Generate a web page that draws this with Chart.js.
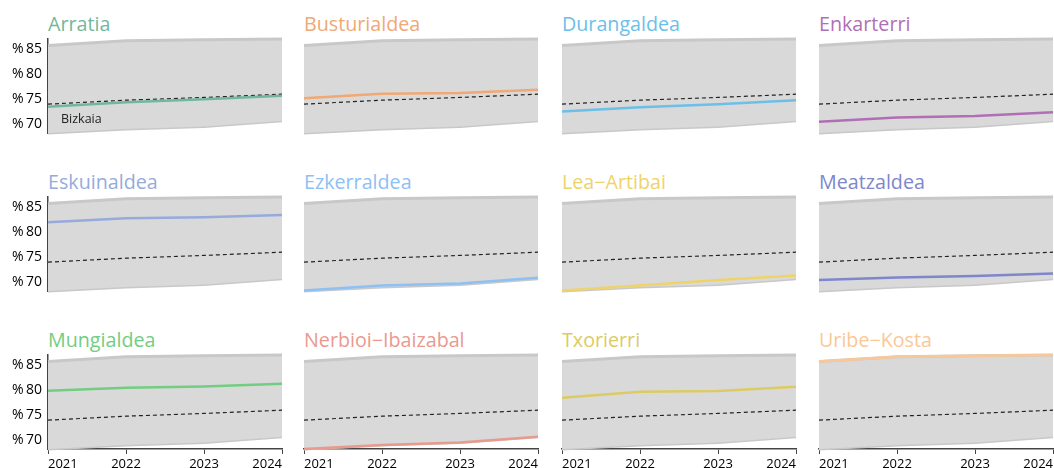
<!DOCTYPE html>
<html>
<head>
<meta charset="utf-8">
<script src="https://cdn.jsdelivr.net/npm/chart.js@4"></script>
<style>
  body { margin: 0; width: 1054px; height: 468px; overflow: hidden; background: #fff; position: relative; font-family: 'Open Sans', sans-serif; }
  .title { position: absolute; font-size: 19.7px; line-height: 24px; white-space: nowrap; }
  canvas { position: absolute; }
</style>
</head>
<body>
<script>
// data
const years = ['2021', '2022', '2023', '2024'];
const yTickValues = [70, 75, 80, 85];

const bizkaia      = [74.0, 74.8, 75.35, 76.0];
const arratia      = [73.5, 74.4, 75.0, 75.7];
const busturialdea = [75.2, 76.1, 76.25, 76.9];
const durangaldea  = [72.5, 73.4, 74.0, 74.8];
const enkarterri   = [70.45, 71.3, 71.6, 72.35];
const eskuinaldea  = [82.0, 82.85, 83.05, 83.5];
const ezkerraldea  = [68.3, 69.3, 69.7, 70.85];
const leaArtibai   = [68.3, 69.3, 70.4, 71.3];
const meatzaldea   = [70.4, 70.9, 71.2, 71.7];
const mungialdea   = [79.9, 80.5, 80.75, 81.3];
const nerbioi      = [68.2, 69.0, 69.5, 70.65];
const txorierri    = [78.5, 79.7, 79.85, 80.7];
const uribeKosta   = [85.8, 86.75, 86.95, 87.1];

const names = ['Arratia', 'Busturialdea', 'Durangaldea', 'Enkarterri',
               'Eskuinaldea', 'Ezkerraldea', 'Lea−Artibai', 'Meatzaldea',
               'Mungialdea', 'Nerbioi−Ibaizabal', 'Txorierri', 'Uribe−Kosta'];
const series = [arratia, busturialdea, durangaldea, enkarterri,
                eskuinaldea, ezkerraldea, leaArtibai, meatzaldea,
                mungialdea, nerbioi, txorierri, uribeKosta];
const colors = ['#71b79d', '#f0a874', '#6cbfe8', '#b06fb4',
                '#96abdc', '#8ec0f4', '#eed36c', '#7e86cc',
                '#72cd82', '#e99a8f', '#dccb64', '#fbc895'];

// grey band = range of all comarcas per year
const bandMax = years.map((_, i) => Math.max(...series.map(s => s[i])));
const bandMin = years.map((_, i) => Math.min(...series.map(s => s[i])));
const yMin = Math.min(...bandMin);
const yMax = Math.max(...bandMax);

// layout of the 4x3 grid
const colLeft = [48, 304, 562, 819];
const rowTop = [39, 197, 355];
const plotW = 234, plotH = 94;
const pad = 6;

const bizkaiaLabel = {
    id: 'bizkaiaLabel',
    afterDatasetsDraw(chart) {
        const { ctx, chartArea, scales } = chart;
        ctx.save();
        ctx.font = '12.5px "Open Sans"';
        ctx.fillStyle = '#222';
        ctx.textBaseline = 'middle';
        ctx.fillText('Bizkaia', chartArea.left + 13, scales.y.getPixelForValue(bizkaia[0]) + 15);
        ctx.restore();
    }
};

series.forEach((values, idx) => {
    const row = Math.floor(idx / 4);
    const col = idx % 4;
    const firstCol = col === 0;
    const lastRow = row === 2;

    const title = document.createElement('div');
    title.className = 'title';
    title.textContent = names[idx];
    title.style.color = colors[idx];
    title.style.left = colLeft[col] + 'px';
    title.style.top = (rowTop[row] - 27) + 'px';
    document.body.appendChild(title);

    const padL = firstCol ? colLeft[0] : pad;
    const padB = lastRow ? 20 : pad;
    const canvas = document.createElement('canvas');
    canvas.width = plotW + padL + pad;
    canvas.height = plotH + pad + padB;
    canvas.style.left = (colLeft[col] - padL) + 'px';
    canvas.style.top = (rowTop[row] - pad) + 'px';
    document.body.appendChild(canvas);

    new Chart(canvas, {
        type: 'line',
        data: {
            labels: years,
            datasets: [
                { data: values, borderColor: colors[idx], borderWidth: 2.5, pointRadius: 0, fill: false, clip: false },
                { data: bizkaia, borderColor: '#222', borderWidth: 1.2, borderDash: [4, 3], pointRadius: 0, fill: false, clip: false },
                { data: bandMax, borderColor: '#c8c8c8', borderWidth: 3, backgroundColor: '#d9d9d9', pointRadius: 0, fill: 3, clip: false },
                { data: bandMin, borderColor: '#c8c8c8', borderWidth: 3, pointRadius: 0, fill: false, clip: false }
            ]
        },
        options: {
            responsive: false,
            animation: false,
            layout: { padding: { top: pad, right: pad, left: firstCol ? 0 : pad, bottom: lastRow ? 0 : pad } },
            plugins: { legend: { display: false }, tooltip: { enabled: false } },
            scales: {
                x: {
                    display: lastRow,
                    offset: false,
                    grid: { drawOnChartArea: false, color: '#444', tickLength: 5 },
                    border: { color: '#444', width: 1.5 },
                    ticks: { align: 'inner', color: '#000', padding: 2, maxRotation: 0, autoSkip: false,
                             font: { size: 13, family: 'Open Sans' } },
                    afterFit: s => { if (lastRow) s.height = 20; }
                },
                y: {
                    display: firstCol,
                    min: yMin,
                    max: yMax,
                    grid: { display: false, drawTicks: false },
                    border: { display: true, color: '#444', width: 1.5 },
                    ticks: { color: '#000', padding: 6, font: { size: 14, family: 'Open Sans' },
                             callback: v => '%\u2009' + v },
                    afterBuildTicks: s => { s.ticks = yTickValues.map(v => ({ value: v })); },
                    afterFit: s => {
                        if (!firstCol) return;
                        s.width = colLeft[0];
                        // tick labels sit well inside the range, no extra room needed
                        s.paddingTop = 0;
                        s.paddingBottom = 0;
                    }
                }
            }
        },
        plugins: idx === 0 ? [bizkaiaLabel] : []
    });
});
</script>
</body>
</html>
